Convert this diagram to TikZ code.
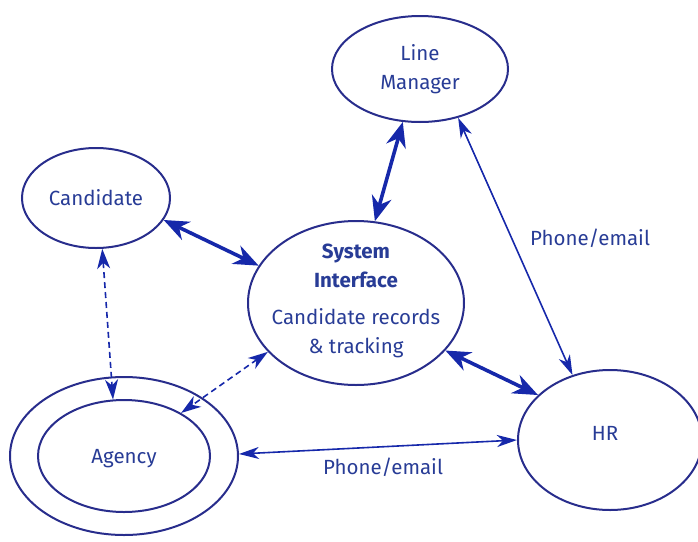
\documentclass[tikz,border=0pt]{standalone}
\usepackage{fontspec}
\setmainfont{Fira Sans}
\usetikzlibrary{shapes.geometric,arrows.meta}
\definecolor{ellc}{RGB}{40,45,140}
\definecolor{arrc}{RGB}{22,40,170}
\definecolor{txtc}{RGB}{40,60,150}
\tikzset{
  ell/.style={ellipse, draw=ellc, line width=2pt, inner sep=0pt},
  lbl/.style={text=txtc, align=center, font=\fontsize{20.5}{28.5}\selectfont},
  thickarr/.style={draw=arrc, line width=3.6pt, {Stealth[length=25pt,width=20pt,inset=8pt]}-{Stealth[length=25pt,width=20pt,inset=8pt]}},
  thinarr/.style={draw=arrc, line width=1.6pt, {Stealth[length=20pt,width=12pt,inset=6pt]}-{Stealth[length=20pt,width=12pt,inset=6pt]}},
  dasharr/.style={draw=arrc, line width=1.6pt, dash pattern=on 6pt off 4pt, {Stealth[length=20pt,width=13pt,inset=6pt]}-{Stealth[length=20pt,width=13pt,inset=6pt]}}
}
\begin{document}
\begin{tikzpicture}[x=1pt,y=-1pt]
\useasboundingbox (0,0) rectangle (698,541);
\node[ell, minimum width=176pt, minimum height=106pt, label={[lbl]center:Line\\Manager}] (lm) at (420,69) {};
\node[ell, minimum width=148pt, minimum height=100pt, label={[lbl]center:Candidate}] (cand) at (96,198) {};
\node[ell, minimum width=216pt, minimum height=164pt, label={[lbl,yshift=2pt]center:\textbf{System}\\\textbf{Interface}\\[9pt]Candidate records\\\& tracking}] (sys) at (356,303) {};
\node[ell, minimum width=228pt, minimum height=158pt] (agout) at (124,456) {};
\node[ell, minimum width=172pt, minimum height=112pt, label={[lbl,yshift=-3pt]center:Agency}] (agin) at (124,456) {};
\node[ell, minimum width=184pt, minimum height=140pt, label={[lbl,xshift=-5pt,yshift=7pt]center:HR}] (hr) at (610,440) {};
\draw[thickarr] (cand.-18) -- (sys.159);
\draw[thickarr] (sys.77) -- (lm.-108);
\draw[thickarr] (sys.-28) -- (hr.148);
\draw[dasharr] (cand.-83) -- (agin.101);
\draw[dasharr] (sys.-151) -- (agin.37);
\draw[thinarr] (lm.-52) -- (hr.120);
\draw[thinarr] (agout.1) -- (hr.180);
\node[lbl] (pe1) at (590,238) {Phone/email};
\node[lbl] (pe2) at (383,467) {Phone/email};
\end{tikzpicture}
\end{document}
